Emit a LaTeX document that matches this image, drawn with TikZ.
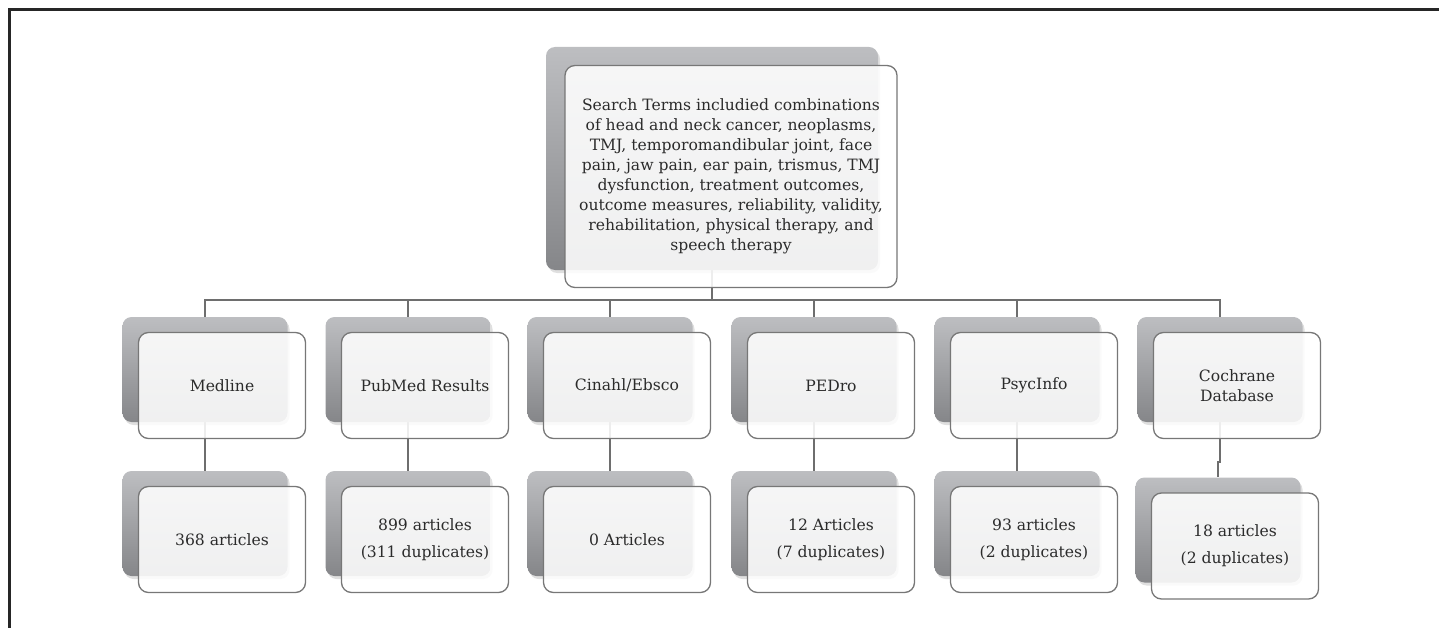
\documentclass[tikz,border=0pt]{standalone}
\usepackage{xcolor}
\usepackage{fontspec}
\setmainfont{DejaVu Serif}
\usepackage{tikz}
\usetikzlibrary{shadows, backgrounds}
\definecolor{backTop}{HTML}{BDBEC1}
\definecolor{backBottom}{HTML}{858689}
\definecolor{edgeGray}{HTML}{777777}
\definecolor{linkGray}{HTML}{6E6E6E}
\definecolor{textGray}{HTML}{2B2B2B}

\begin{document}
\begin{tikzpicture}[
    x=1pt, y=-1pt,
    back/.style={rectangle, rounded corners=9pt, top color=backTop, bottom color=backBottom,
        minimum width=165pt, minimum height=105pt,
        drop shadow={shadow xshift=2pt, shadow yshift=-3pt, opacity=0.25}},
    front/.style={rectangle, draw=edgeGray, line width=1.3pt, rounded corners=10pt,
        fill=white, fill opacity=0.88, text opacity=1, text=textGray,
        minimum width=167pt, minimum height=106pt, align=center,
        font=\fontsize{15.6}{20}\selectfont, xshift=17pt, yshift=-16pt},
    result/.style={front, font=\fontsize{15.6}{27}\selectfont},
    link/.style={draw=linkGray, line width=1.6pt},
]
    \useasboundingbox (0,0) rectangle (1439,628);
    % Frame
    \draw[line width=3pt, black!85] (9,628) -- (9,10) -- (1439,10);

    % Nodes
    \node[back, minimum width=332pt, minimum height=223pt] (searchB) at (712,158.5) {};
    \node[front, minimum width=332pt, minimum height=222pt, xshift=2pt, yshift=-2pt] (search) at (searchB)
        {Search Terms includied combinations\\of head and neck cancer, neoplasms,\\TMJ, temporomandibular joint, face\\pain, jaw pain, ear pain, trismus, TMJ\\dysfunction, treatment outcomes,\\outcome measures, reliability, validity,\\rehabilitation, physical therapy, and\\speech therapy};

    \node[back] (medlineB) at (205,369.5) {};
    \node[front] (medline) at (medlineB) {Medline};
    \node[back] (pubmedB) at (408,369.5) {};
    \node[front] (pubmed) at (pubmedB) {PubMed Results};
    \node[back] (cinahlB) at (610,369.5) {};
    \node[front] (cinahl) at (cinahlB) {Cinahl/Ebsco};
    \node[back] (pedroB) at (814,369.5) {};
    \node[front] (pedro) at (pedroB) {PEDro};
    \node[back] (psycB) at (1017,369.5) {};
    \node[front] (psyc) at (psycB) {PsycInfo};
    \node[back] (cochraneB) at (1220,369.5) {};
    \node[front] (cochrane) at (cochraneB) {Cochrane\\Database};

    \node[back] (medlineRB) at (205,523.5) {};
    \node[result] (medlineR) at (medlineRB) {368 articles};
    \node[back] (pubmedRB) at (408,523.5) {};
    \node[result] (pubmedR) at (pubmedRB) {899 articles\\(311 duplicates)};
    \node[back] (cinahlRB) at (610,523.5) {};
    \node[result] (cinahlR) at (cinahlRB) {0 Articles};
    \node[back] (pedroRB) at (814,523.5) {};
    \node[result] (pedroR) at (pedroRB) {12 Articles\\(7 duplicates)};
    \node[back] (psycRB) at (1017,523.5) {};
    \node[result] (psycR) at (psycRB) {93 articles\\(2 duplicates)};
    \node[back] (cochraneRB) at (1218,530) {};
    \node[result] (cochraneR) at (cochraneRB) {18 articles\\(2 duplicates)};

    % Connectors
    \begin{scope}[on background layer]
    \coordinate (bar) at (712,300);
    \draw[link] (searchB.south) -- (bar);
    \draw[link, line width=2pt] (medlineB.north) -- (medlineB.north |- bar) -- (cochraneB.north |- bar) -- (cochraneB.north);
    \foreach \n in {pubmed, cinahl, pedro, psyc}
        \draw[link] (\n B.north) -- (\n B.north |- bar);
    \foreach \n in {medline, pubmed, cinahl, pedro, psyc}
        \draw[link] (\n B.south) -- (\n RB.north);
    \draw[link] (cochraneB.south) -- ++(0,40) -| (cochraneRB.north);
    \end{scope}
\end{tikzpicture}
\end{document}
